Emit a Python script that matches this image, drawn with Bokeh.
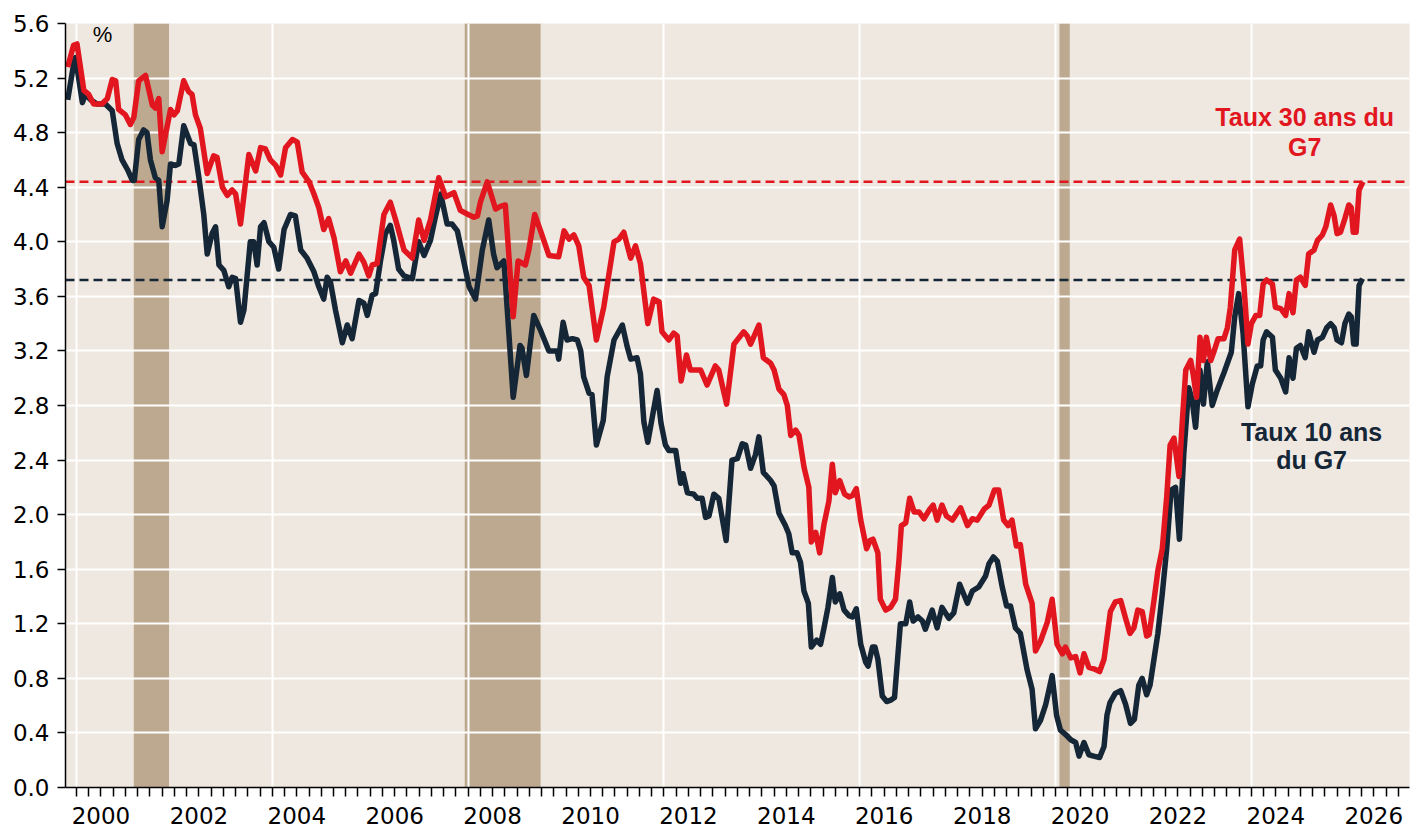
from bokeh.plotting import figure
from bokeh.models import FixedTicker, Span, Label, Range1d, ColumnDataSource
from bokeh.embed import file_html
from bokeh.resources import INLINE

# ---------------- data (decimal years, %) ----------------
years_30 = [1999.82, 1999.94, 2000.01, 2000.15, 2000.25, 2000.35, 2000.52, 2000.63, 2000.73, 2000.80,
            2000.86, 2001.00, 2001.10, 2001.17, 2001.27, 2001.41, 2001.55, 2001.61, 2001.68, 2001.75,
            2001.92, 2001.99, 2002.06, 2002.19, 2002.29, 2002.36, 2002.43, 2002.53, 2002.67, 2002.80,
            2002.87, 2002.98, 2003.08, 2003.18, 2003.25, 2003.35, 2003.52, 2003.66, 2003.76, 2003.86,
            2003.96, 2004.07, 2004.17, 2004.27, 2004.41, 2004.51, 2004.61, 2004.75, 2004.85, 2004.95,
            2005.05, 2005.15, 2005.26, 2005.39, 2005.50, 2005.60, 2005.77, 2005.87, 2005.97, 2006.04,
            2006.14, 2006.28, 2006.41, 2006.52, 2006.69, 2006.86, 2006.99, 2007.10, 2007.23, 2007.40,
            2007.54, 2007.71, 2007.84, 2008.00, 2008.12, 2008.19, 2008.25, 2008.39, 2008.56, 2008.66,
            2008.76, 2008.92, 2009.02, 2009.17, 2009.24, 2009.36, 2009.48, 2009.65, 2009.85, 2009.96,
            2010.06, 2010.16, 2010.26, 2010.36, 2010.47, 2010.62, 2010.77, 2010.98, 2011.08, 2011.18,
            2011.32, 2011.42, 2011.52, 2011.67, 2011.79, 2011.90, 2011.96, 2012.10, 2012.20, 2012.27,
            2012.35, 2012.46, 2012.54, 2012.75, 2012.88, 2013.05, 2013.12, 2013.28, 2013.43, 2013.63,
            2013.70, 2013.77, 2013.94, 2014.03, 2014.18, 2014.25, 2014.35, 2014.45, 2014.52, 2014.59,
            2014.69, 2014.76, 2014.86, 2014.96, 2015.01, 2015.10, 2015.18, 2015.27, 2015.37, 2015.44,
            2015.50, 2015.59, 2015.69, 2015.78, 2015.85, 2015.93, 2016.02, 2016.14, 2016.21, 2016.27,
            2016.37, 2016.42, 2016.53, 2016.63, 2016.73, 2016.80, 2016.85, 2016.94, 2017.02, 2017.11,
            2017.21, 2017.31, 2017.43, 2017.50, 2017.58, 2017.68, 2017.77, 2017.89, 2018.06, 2018.20,
            2018.30, 2018.40, 2018.54, 2018.64, 2018.75, 2018.84, 2018.94, 2019.03, 2019.11, 2019.20,
            2019.28, 2019.39, 2019.52, 2019.59, 2019.69, 2019.83, 2019.93, 2020.03, 2020.14, 2020.20,
            2020.31, 2020.41, 2020.50, 2020.58, 2020.68, 2020.78, 2020.90, 2020.99, 2021.05, 2021.12,
            2021.22, 2021.33, 2021.43, 2021.52, 2021.60, 2021.68, 2021.77, 2021.86, 2021.91, 2022.01,
            2022.09, 2022.18, 2022.27, 2022.34, 2022.42, 2022.52, 2022.59, 2022.66, 2022.76, 2022.81,
            2022.88, 2022.95, 2023.02, 2023.08, 2023.17, 2023.23, 2023.32, 2023.44, 2023.51, 2023.57,
            2023.66, 2023.76, 2023.85, 2023.93, 2024.00, 2024.09, 2024.17, 2024.24, 2024.31, 2024.43,
            2024.49, 2024.60, 2024.70, 2024.77, 2024.85, 2024.92, 2025.00, 2025.10, 2025.17, 2025.28,
            2025.35, 2025.45, 2025.52, 2025.62, 2025.69, 2025.75, 2025.82, 2025.91, 2025.99, 2026.04,
            2026.08, 2026.14, 2026.20, 2026.28]
rate_30 = [5.28, 5.44, 5.45, 5.11, 5.08, 5.01, 5.01, 5.05, 5.19, 5.18,
           4.97, 4.93, 4.86, 4.91, 5.18, 5.22, 5.00, 4.98, 5.05, 4.66,
           4.97, 4.93, 4.96, 5.18, 5.10, 5.08, 4.93, 4.83, 4.50, 4.63,
           4.62, 4.40, 4.34, 4.38, 4.35, 4.13, 4.64, 4.52, 4.69, 4.68,
           4.60, 4.56, 4.49, 4.69, 4.75, 4.73, 4.51, 4.44, 4.35, 4.25,
           4.09, 4.17, 4.03, 3.78, 3.86, 3.77, 3.91, 3.85, 3.75, 3.83,
           3.84, 4.20, 4.29, 4.16, 3.94, 3.88, 4.16, 4.01, 4.16, 4.47,
           4.33, 4.36, 4.23, 4.20, 4.18, 4.19, 4.29, 4.44, 4.24, 4.26,
           4.27, 3.45, 3.86, 3.83, 3.94, 4.20, 4.08, 3.90, 3.89, 4.08,
           4.02, 4.05, 3.97, 3.74, 3.68, 3.28, 3.52, 4.00, 4.02, 4.07,
           3.88, 3.97, 3.84, 3.40, 3.58, 3.56, 3.34, 3.28, 3.33, 3.31,
           2.98, 3.17, 3.06, 3.06, 2.95, 3.09, 3.06, 2.81, 3.25, 3.34,
           3.31, 3.25, 3.39, 3.15, 3.11, 3.06, 2.92, 2.88, 2.80, 2.58,
           2.62, 2.58, 2.35, 2.20, 1.80, 1.87, 1.72, 1.93, 2.10, 2.37,
           2.16, 2.25, 2.15, 2.13, 2.14, 2.19, 1.96, 1.75, 1.81, 1.82,
           1.72, 1.38, 1.30, 1.32, 1.38, 1.66, 1.92, 1.94, 2.12, 2.02,
           2.02, 1.97, 2.04, 2.07, 1.96, 2.07, 1.99, 1.96, 2.05, 1.92,
           1.97, 1.96, 2.04, 2.07, 2.18, 2.18, 1.96, 1.92, 1.96, 1.77,
           1.78, 1.49, 1.35, 1.00, 1.07, 1.21, 1.38, 1.05, 0.98, 1.03,
           0.95, 0.96, 0.84, 0.98, 0.88, 0.87, 0.85, 0.94, 1.10, 1.29,
           1.36, 1.37, 1.24, 1.13, 1.17, 1.30, 1.29, 1.11, 1.12, 1.37,
           1.59, 1.75, 2.13, 2.51, 2.56, 2.28, 2.69, 3.06, 3.13, 3.03,
           2.86, 3.30, 3.13, 3.30, 3.13, 3.19, 3.29, 3.29, 3.37, 3.52,
           3.94, 4.02, 3.67, 3.25, 3.40, 3.46, 3.46, 3.69, 3.72, 3.69,
           3.52, 3.51, 3.46, 3.62, 3.48, 3.72, 3.74, 3.68, 3.91, 3.94,
           4.01, 4.05, 4.11, 4.27, 4.19, 4.06, 4.07, 4.17, 4.27, 4.25,
           4.07, 4.07, 4.38, 4.44]

years_10 = [1999.82, 1999.94, 1999.98, 2000.12, 2000.18, 2000.29, 2000.42, 2000.59, 2000.73, 2000.83,
            2000.93, 2001.04, 2001.14, 2001.18, 2001.27, 2001.37, 2001.44, 2001.51, 2001.61, 2001.68,
            2001.75, 2001.85, 2001.92, 2002.02, 2002.09, 2002.19, 2002.33, 2002.40, 2002.50, 2002.60,
            2002.67, 2002.77, 2002.84, 2002.91, 2003.01, 2003.11, 2003.18, 2003.25, 2003.35, 2003.42,
            2003.55, 2003.62, 2003.69, 2003.76, 2003.83, 2003.93, 2004.03, 2004.13, 2004.24, 2004.37,
            2004.47, 2004.58, 2004.71, 2004.85, 2004.95, 2005.05, 2005.12, 2005.19, 2005.29, 2005.43,
            2005.53, 2005.63, 2005.77, 2005.87, 2005.94, 2006.04, 2006.11, 2006.21, 2006.31, 2006.41,
            2006.48, 2006.58, 2006.69, 2006.86, 2006.99, 2007.10, 2007.23, 2007.33, 2007.44, 2007.57,
            2007.67, 2007.78, 2007.88, 2008.02, 2008.15, 2008.29, 2008.42, 2008.52, 2008.59, 2008.73,
            2008.80, 2008.92, 2009.06, 2009.10, 2009.19, 2009.34, 2009.48, 2009.65, 2009.82, 2009.85,
            2009.94, 2010.02, 2010.13, 2010.23, 2010.30, 2010.36, 2010.47, 2010.53, 2010.62, 2010.76,
            2010.84, 2010.98, 2011.15, 2011.25, 2011.32, 2011.45, 2011.52, 2011.59, 2011.67, 2011.86,
            2011.94, 2012.03, 2012.10, 2012.24, 2012.34, 2012.39, 2012.48, 2012.61, 2012.68, 2012.78,
            2012.85, 2012.92, 2013.02, 2013.12, 2013.27, 2013.39, 2013.50, 2013.60, 2013.67, 2013.77,
            2013.87, 2013.94, 2014.03, 2014.18, 2014.25, 2014.35, 2014.48, 2014.55, 2014.62, 2014.72,
            2014.79, 2014.86, 2014.95, 2015.01, 2015.12, 2015.20, 2015.27, 2015.35, 2015.44, 2015.50,
            2015.59, 2015.68, 2015.78, 2015.85, 2015.93, 2016.02, 2016.12, 2016.17, 2016.26, 2016.31,
            2016.37, 2016.46, 2016.55, 2016.63, 2016.71, 2016.77, 2016.83, 2016.94, 2017.02, 2017.09,
            2017.19, 2017.28, 2017.34, 2017.48, 2017.58, 2017.68, 2017.82, 2017.92, 2018.04, 2018.20,
            2018.30, 2018.43, 2018.57, 2018.64, 2018.73, 2018.81, 2018.91, 2019.00, 2019.08, 2019.18,
            2019.28, 2019.42, 2019.52, 2019.59, 2019.69, 2019.80, 2019.93, 2020.02, 2020.10, 2020.20,
            2020.31, 2020.41, 2020.48, 2020.58, 2020.68, 2020.78, 2020.90, 2020.99, 2021.05, 2021.11,
            2021.22, 2021.33, 2021.43, 2021.53, 2021.61, 2021.70, 2021.77, 2021.86, 2021.93, 2022.01,
            2022.09, 2022.18, 2022.27, 2022.36, 2022.45, 2022.53, 2022.62, 2022.72, 2022.79, 2022.86,
            2022.95, 2023.02, 2023.10, 2023.20, 2023.30, 2023.44, 2023.59, 2023.66, 2023.74, 2023.83,
            2023.93, 2024.02, 2024.12, 2024.19, 2024.24, 2024.31, 2024.43, 2024.49, 2024.60, 2024.70,
            2024.77, 2024.85, 2024.92, 2025.00, 2025.10, 2025.17, 2025.28, 2025.35, 2025.45, 2025.54,
            2025.62, 2025.69, 2025.75, 2025.84, 2025.91, 2025.99, 2026.04, 2026.09, 2026.14, 2026.20,
            2026.27]
rate_10 = [5.04, 5.30, 5.35, 5.02, 5.08, 5.04, 5.01, 5.01, 4.96, 4.72,
           4.60, 4.53, 4.45, 4.45, 4.75, 4.82, 4.80, 4.60, 4.47, 4.45,
           4.11, 4.30, 4.57, 4.56, 4.57, 4.85, 4.72, 4.71, 4.47, 4.20,
           3.91, 4.06, 4.11, 3.83, 3.79, 3.67, 3.74, 3.73, 3.41, 3.50,
           4.00, 4.00, 3.83, 4.11, 4.14, 4.00, 3.96, 3.80, 4.09, 4.20,
           4.19, 3.94, 3.88, 3.78, 3.67, 3.58, 3.74, 3.70, 3.50, 3.26,
           3.39, 3.29, 3.57, 3.55, 3.46, 3.61, 3.62, 3.86, 4.06, 4.12,
           4.01, 3.80, 3.75, 3.73, 4.00, 3.90, 4.01, 4.18, 4.35, 4.13,
           4.13, 4.08, 3.91, 3.67, 3.58, 3.94, 4.16, 3.91, 3.81, 3.86,
           3.50, 2.86, 3.24, 3.22, 3.02, 3.46, 3.35, 3.20, 3.20, 3.14,
           3.41, 3.28, 3.29, 3.28, 3.20, 3.01, 2.89, 2.88, 2.51, 2.69,
           3.01, 3.28, 3.39, 3.23, 3.14, 3.15, 3.03, 2.68, 2.53, 2.91,
           2.67, 2.51, 2.47, 2.47, 2.23, 2.30, 2.16, 2.15, 2.12, 2.12,
           1.98, 1.99, 2.15, 2.12, 1.81, 2.40, 2.41, 2.52, 2.51, 2.34,
           2.44, 2.57, 2.31, 2.25, 2.21, 2.01, 1.92, 1.86, 1.72, 1.72,
           1.65, 1.44, 1.35, 1.03, 1.08, 1.05, 1.17, 1.32, 1.54, 1.36,
           1.42, 1.30, 1.26, 1.25, 1.31, 1.05, 0.92, 0.89, 1.03, 1.03,
           0.94, 0.67, 0.63, 0.64, 0.66, 0.93, 1.20, 1.20, 1.36, 1.22,
           1.25, 1.22, 1.16, 1.30, 1.17, 1.32, 1.24, 1.28, 1.49, 1.35,
           1.44, 1.47, 1.55, 1.64, 1.69, 1.66, 1.47, 1.33, 1.33, 1.17,
           1.13, 0.86, 0.72, 0.43, 0.49, 0.61, 0.82, 0.53, 0.42, 0.39,
           0.35, 0.33, 0.23, 0.33, 0.24, 0.23, 0.22, 0.30, 0.53, 0.62,
           0.69, 0.71, 0.61, 0.47, 0.50, 0.75, 0.80, 0.68, 0.75, 0.94,
           1.13, 1.42, 1.75, 2.18, 2.20, 1.82, 2.45, 2.93, 2.84, 2.64,
           3.06, 2.81, 3.12, 2.80, 2.91, 3.04, 3.19, 3.45, 3.62, 3.33,
           2.79, 2.96, 3.09, 3.09, 3.28, 3.34, 3.30, 3.06, 3.00, 2.90,
           3.15, 3.00, 3.22, 3.24, 3.15, 3.34, 3.19, 3.28, 3.30, 3.37,
           3.40, 3.37, 3.28, 3.26, 3.40, 3.47, 3.45, 3.25, 3.25, 3.68,
           3.73]

recession_start = [2001.17, 2007.93, 2020.08]
recession_end = [2001.89, 2009.48, 2020.29]

last_30 = 4.44
last_10 = 3.72

y_ticks = [0.0, 0.4, 0.8, 1.2, 1.6, 2.0, 2.4, 2.8, 3.2, 3.6, 4.0, 4.4, 4.8, 5.2, 5.6]
y_labels = ["0.0", "0.4", "0.8", "1.2", "1.6", "2.0", "2.4", "2.8", "3.2", "3.6",
            "4.0", "4.4", "4.8", "5.2", "5.6"]
label_years = [2000, 2002, 2004, 2006, 2008, 2010, 2012, 2014, 2016, 2018, 2020, 2022, 2024, 2026]
grid_years = [2000, 2004, 2008, 2012, 2016, 2020, 2024]

# ---------------- style ----------------
RED = "#E1161F"
NAVY = "#152637"
BG = "#EFE8E1"
SHADE = "#BDA98F"
FONT = "Liberation Sans"
TICK_FONT = "DejaVu Sans"
TICK_FS = "23px"

p = figure(width=1420, height=828,
           x_range=Range1d(1999.775, 2027.23), y_range=Range1d(0, 5.6),
           output_backend="svg", toolbar_location=None,
           min_border_left=65, min_border_right=11, min_border_top=23, min_border_bottom=41)
p.background_fill_color = BG
p.border_fill_color = "white"
p.outline_line_color = None

# recession shading (under the grid)
shade_src = ColumnDataSource(dict(left=recession_start, right=recession_end,
                                  bottom=[0] * len(recession_start), top=[5.6] * len(recession_start)))
r_shade = p.quad(left="left", right="right", bottom="bottom", top="top", source=shade_src,
                 fill_color=SHADE, line_color=None)
r_shade.level = "image"

# grids
p.ygrid.ticker = FixedTicker(ticks=y_ticks)
p.xgrid.ticker = FixedTicker(ticks=grid_years)
for g in (p.xgrid, p.ygrid):
    g.grid_line_color = "white"
    g.grid_line_width = 2

# reference lines (last values)
for loc, col in ((last_30, RED), (last_10, NAVY)):
    p.add_layout(Span(location=loc, dimension="width", line_color=col,
                      line_width=2.5, line_dash="9 5", level="underlay"))

# series
p.line(years_10, rate_10, line_color=NAVY, line_width=5.5, line_join="round")
p.line(years_30, rate_30, line_color=RED, line_width=5.5, line_join="round")

# y axis
ya = p.yaxis[0]
ya.ticker = FixedTicker(ticks=y_ticks)
ya.major_label_overrides = {t: l for t, l in zip(y_ticks, y_labels)}
ya.major_label_text_font = TICK_FONT
ya.major_label_text_font_size = TICK_FS
ya.major_label_text_color = "black"
ya.major_label_standoff = 8
ya.major_tick_out = 8
ya.major_tick_in = 0
ya.minor_tick_line_color = None
ya.axis_line_color = "black"
ya.axis_line_width = 1.5
ya.major_tick_line_color = "black"
ya.major_tick_line_width = 1.5

# x axis: quarterly tick marks, year labels centred on each (even) year
quarters = [1999.75 + 0.25 * k for k in range(0, 110)]
mid = [y + 0.5 for y in label_years]
xa = p.xaxis[0]
xa.ticker = FixedTicker(ticks=mid, minor_ticks=quarters)
xa.major_label_overrides = {m: str(y) for m, y in zip(mid, label_years)}
xa.major_tick_line_color = None
xa.major_tick_out = 0
xa.major_tick_in = 0
xa.minor_tick_out = 9
xa.minor_tick_in = 0
xa.minor_tick_line_color = "black"
xa.minor_tick_line_width = 1.5
xa.axis_line_color = "black"
xa.axis_line_width = 1.5
xa.major_label_standoff = 10
xa.major_label_text_font = TICK_FONT
xa.major_label_text_font_size = TICK_FS
xa.major_label_text_color = "black"

# texts
p.add_layout(Label(x=2000.33, y=5.52, text="%", text_font=FONT, text_font_size="22px",
                   text_color="black", text_align="left", text_baseline="alphabetic"))
for txt, yy in (("Taux 30 ans du", 4.918), ("G7", 4.698)):
    p.add_layout(Label(x=2025.09, y=yy, text=txt, text_font=FONT, text_font_size="25px",
                       text_font_style="bold", text_color=RED, text_align="center",
                       text_baseline="alphabetic"))
for txt, yy in (("Taux 10 ans", 2.609), ("du G7", 2.404)):
    p.add_layout(Label(x=2025.23, y=yy, text=txt, text_font=FONT, text_font_size="25px",
                       text_font_style="bold", text_color=NAVY, text_align="center",
                       text_baseline="alphabetic"))

open("out.html", "w").write(file_html(p, INLINE))
